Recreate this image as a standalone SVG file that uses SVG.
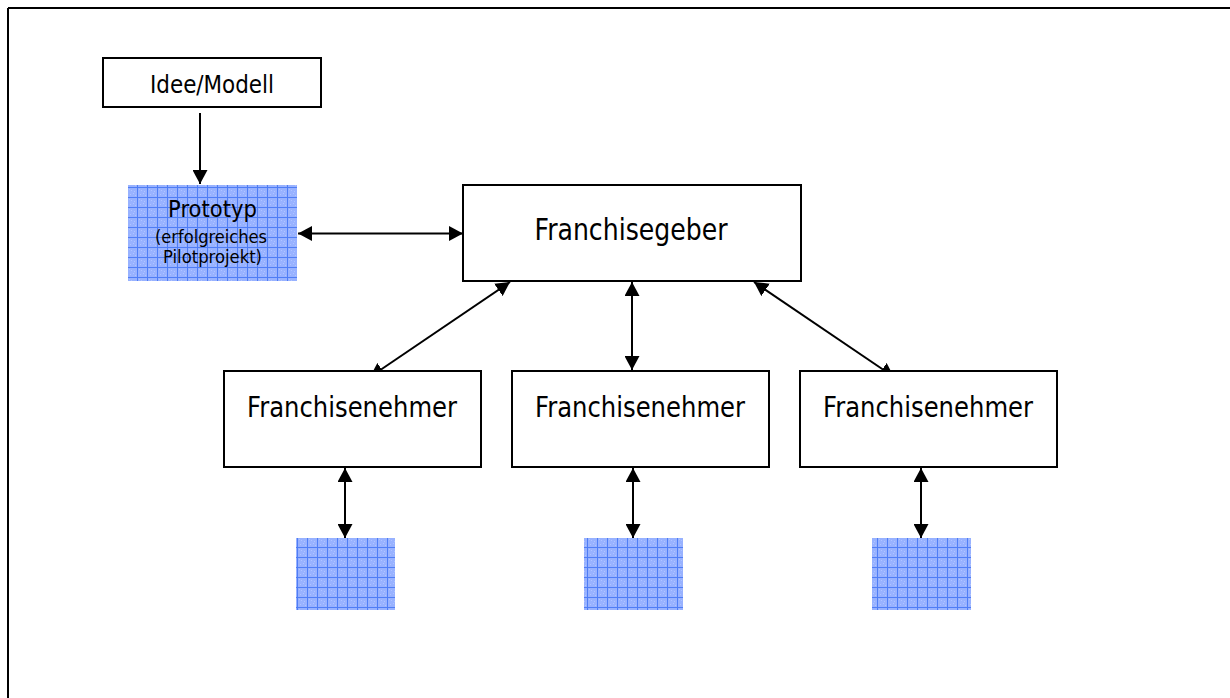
<svg xmlns="http://www.w3.org/2000/svg" width="1230" height="698" viewBox="0 0 1230 698">
<style>
.box{fill:#fff;stroke:#000;stroke-width:2}
.pat{fill:url(#grid);stroke:none}
.t{font-family:"DejaVu Sans",Verdana,sans-serif;fill:#000;text-anchor:middle}
.c{stroke:#000;stroke-width:2;fill:none;marker-end:url(#ah);marker-start:url(#ah)}
.c1{stroke:#000;stroke-width:2;fill:none;marker-end:url(#ah)}
</style>
<defs>
<pattern id="grid" patternUnits="userSpaceOnUse" x="7" y="7" width="10" height="10">
<rect width="10" height="10" fill="#98b2ff"/>
<path d="M2,2h1v1h-1zM6,6h1v1h-1zM4,3h1v1h-1zM8,8h1v1h-1zM3,7h1v1h-1zM7,4h1v1h-1z" fill="#b0c4ff"/>
<path d="M0.5,0V10M0,0.5H10" stroke="#4f7df5" stroke-width="1"/>
</pattern>
<marker id="ah" markerUnits="userSpaceOnUse" markerWidth="15" markerHeight="15" refX="14" refY="7.5" orient="auto-start-reverse" viewBox="0 0 15 15">
<path d="M0,0L14,7.5L0,15z" fill="#000"/>
</marker>
</defs>
<g id="frame">
<path d="M8,8H1230M8,8V698" stroke="#000" stroke-width="2" fill="none"/>
</g>
<g id="connectors">
<line class="c1" x1="200" y1="113" x2="200" y2="184"/>
<line class="c" x1="298" y1="233.5" x2="463" y2="233.5"/>
<line class="c" x1="510" y1="282" x2="370" y2="377"/>
<line class="c" x1="632" y1="282" x2="632" y2="370"/>
<line class="c" x1="754" y1="282" x2="894" y2="377"/>
<line class="c" x1="345" y1="468" x2="345" y2="538"/>
<line class="c" x1="633" y1="468" x2="633" y2="538"/>
<line class="c" x1="921" y1="468" x2="921" y2="538"/>
</g>
<g id="idee">
<rect class="box" x="103" y="58" width="218" height="49"/>
<text class="t" x="212" y="93" font-size="24" textLength="124" lengthAdjust="spacingAndGlyphs">Idee/Modell</text>
</g>
<g id="prototyp">
<rect class="pat" x="128" y="185" width="169" height="96"/>
<text class="t" x="212.5" y="217" font-size="22.5" textLength="89" lengthAdjust="spacingAndGlyphs">Prototyp</text>
<text class="t" x="211" y="243" font-size="18" textLength="112" lengthAdjust="spacingAndGlyphs">(erfolgreiches</text>
<text class="t" x="212.5" y="263" font-size="18" textLength="99" lengthAdjust="spacingAndGlyphs">Pilotprojekt)</text>
</g>
<g id="franchisegeber">
<rect class="box" x="463" y="185" width="338" height="96"/>
<text class="t" x="631" y="240" font-size="29.5" textLength="193" lengthAdjust="spacingAndGlyphs">Franchisegeber</text>
</g>
<g id="nehmer1">
<rect class="box" x="224" y="371" width="257" height="96"/>
<text class="t" x="352" y="417" font-size="28.5" textLength="210" lengthAdjust="spacingAndGlyphs">Franchisenehmer</text>
</g>
<g id="nehmer2">
<rect class="box" x="512" y="371" width="257" height="96"/>
<text class="t" x="640" y="417" font-size="28.5" textLength="210" lengthAdjust="spacingAndGlyphs">Franchisenehmer</text>
</g>
<g id="nehmer3">
<rect class="box" x="800" y="371" width="257" height="96"/>
<text class="t" x="928" y="417" font-size="28.5" textLength="210" lengthAdjust="spacingAndGlyphs">Franchisenehmer</text>
</g>
<g id="kunde1"><rect class="pat" x="296" y="538" width="99" height="72"/></g>
<g id="kunde2"><rect class="pat" x="584" y="538" width="99" height="72"/></g>
<g id="kunde3"><rect class="pat" x="872" y="538" width="99" height="72"/></g>
</svg>
